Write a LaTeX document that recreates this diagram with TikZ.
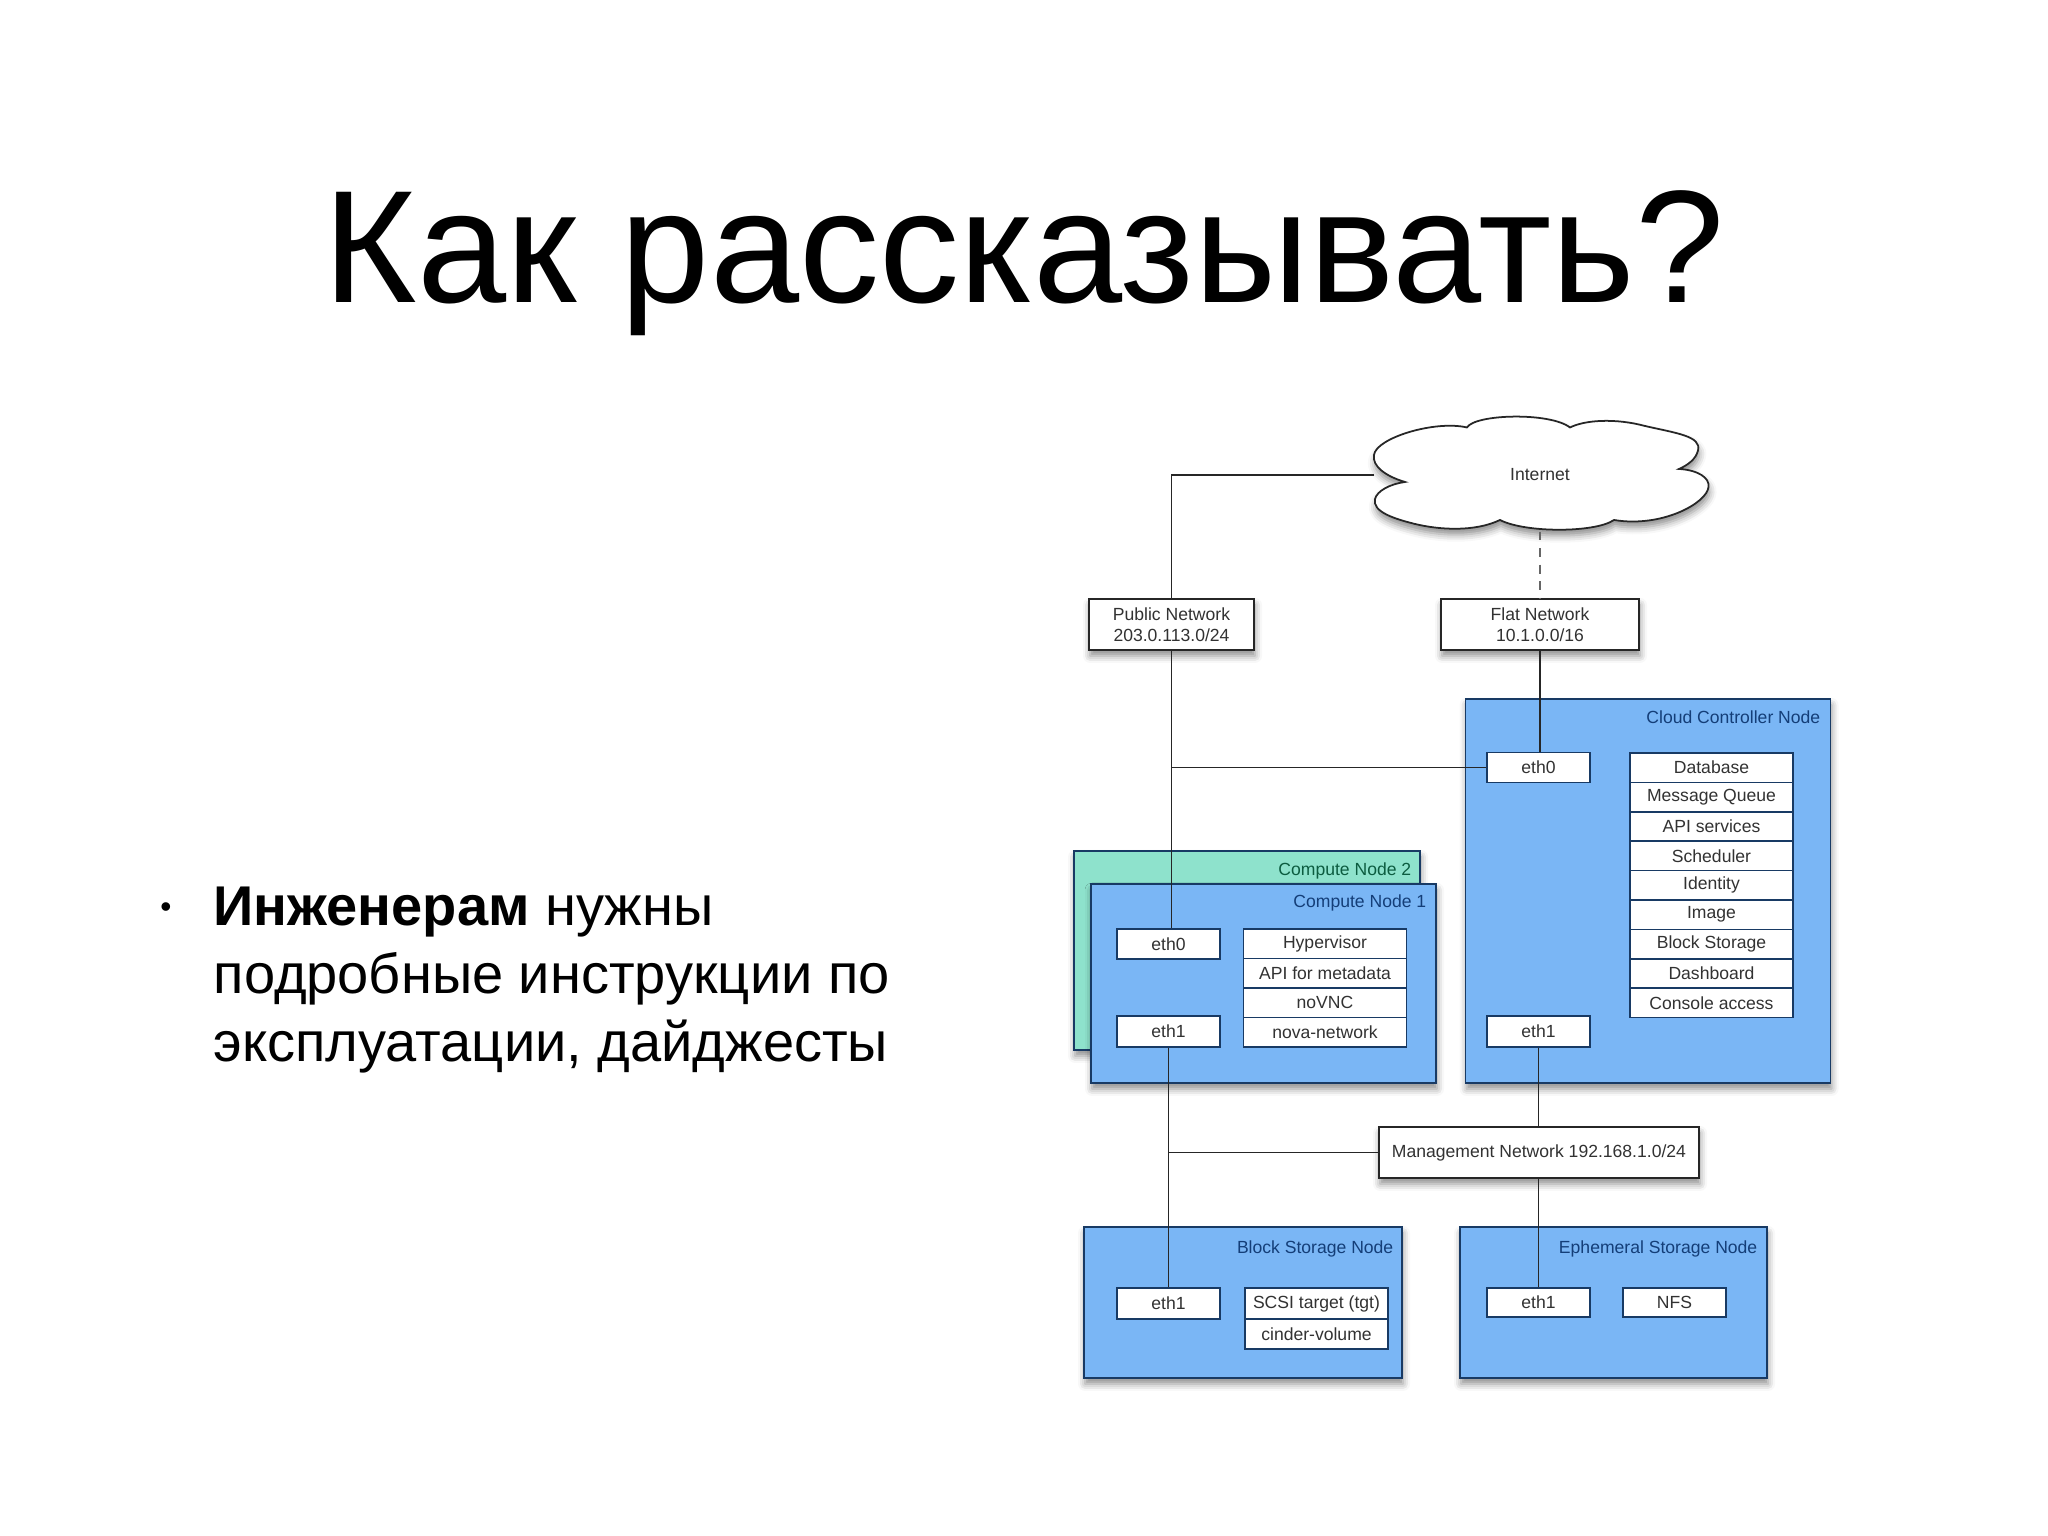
\documentclass[tikz,border=0pt]{standalone}
\usepackage{fontspec}
\setmainfont{Liberation Sans}
\usetikzlibrary{shadows.blur}
\definecolor{nodeblue}{RGB}{122,182,245}
\definecolor{nodeteal}{RGB}{142,226,204}
\definecolor{edgeblue}{RGB}{24,58,100}
\definecolor{titleblue}{RGB}{20,62,120}
\definecolor{titlegreen}{RGB}{12,92,64}
\definecolor{boxtext}{RGB}{50,50,50}
\tikzset{
  softshadow/.style={blur shadow={shadow xshift=0.01cm,shadow yshift=-0.06cm,shadow blur radius=0.07cm,shadow opacity=45}},
  hostbox/.style={rectangle, draw=edgeblue, line width=0.55pt, fill=nodeblue, softshadow},
  netbox/.style={rectangle, draw=black!85, line width=0.5pt, fill=white, text=boxtext, inner sep=0pt, align=center, font=\fontsize{5}{5.9}\selectfont, softshadow},
  portbox/.style={rectangle, draw=edgeblue, line width=0.45pt, fill=white, text=boxtext, inner sep=0pt, font=\fontsize{5}{5.9}\selectfont, minimum width=1.03cm},
  svcbox/.style={portbox, minimum width=1.63cm, minimum height=0.294cm},
  hostname/.style={anchor=east, inner sep=0pt, text=titleblue, font=\fontsize{5}{5.9}\selectfont},
  wire/.style={draw=black!85, line width=0.55pt}
}
\begin{document}
\begin{tikzpicture}
\useasboundingbox (0,0) rectangle (20.48,15.36);

\node[anchor=base, inner sep=0pt, font=\fontsize{45.6}{50}\selectfont] (title) at (10.24,12.33) {Как рассказывать?};
\node[inner sep=0pt, font=\fontsize{9}{10}\selectfont] (dot) at (1.66,6.26) {•};
\node[anchor=north west, inner sep=0pt, align=left, font=\fontsize{15.94}{19.35}\selectfont] (text) at (2.13,6.50) {\textbf{Инженерам} нужны\\подробные инструкции по\\эксплуатации, дайджесты};

% hosts
\node[hostbox, fill=nodeteal, minimum width=3.46cm, minimum height=1.99cm] (cntwo) at (12.47,5.855) {};
\node[hostbox, minimum width=3.45cm, minimum height=1.99cm] (cn) at (12.635,5.525) {};
\node[hostbox, minimum width=3.65cm, minimum height=3.84cm] (ctl) at (16.48,6.45) {};
\node[hostbox, minimum width=3.18cm, minimum height=1.51cm] (block) at (12.43,2.335) {};
\node[hostbox, minimum width=3.07cm, minimum height=1.51cm] (eph) at (16.135,2.335) {};

\node[hostname, text=titlegreen] (cntwoname) at (14.12,6.655) {Compute Node 2};
\node[hostname] (cnname) at (14.27,6.33) {Compute Node 1};
\node[hostname] (ctlname) at (18.21,8.19) {Cloud Controller Node};
\node[hostname] (blockname) at (13.94,2.875) {Block Storage Node};
\node[hostname] (ephname) at (17.58,2.875) {Ephemeral Storage Node};

% networks
\draw[draw=black!85, line width=0.5pt, fill=white, softshadow] (14.05,10.54)
  .. controls (13.85,10.60) and (13.72,10.70) .. (13.74,10.81)
  .. controls (13.76,10.98) and (14.35,11.16) .. (14.67,11.085)
  .. controls (14.75,11.22) and (15.50,11.24) .. (15.70,11.085)
  .. controls (15.85,11.16) and (16.15,11.18) .. (16.45,11.10)
  .. controls (16.75,11.03) and (17.02,11.00) .. (16.98,10.855)
  .. controls (16.96,10.77) and (16.88,10.71) .. (16.79,10.67)
  .. controls (16.98,10.66) and (17.10,10.58) .. (17.085,10.49)
  .. controls (17.07,10.33) and (16.62,10.08) .. (16.14,10.16)
  .. controls (15.95,10.03) and (15.25,10.03) .. (15.00,10.16)
  .. controls (14.75,10.04) and (14.40,10.06) .. (14.15,10.12)
  .. controls (13.95,10.17) and (13.72,10.24) .. (13.75,10.37)
  .. controls (13.77,10.45) and (13.90,10.52) .. (14.05,10.54) -- cycle;
\node[text=boxtext, inner sep=0pt, minimum width=3.30cm, minimum height=1.12cm, font=\fontsize{5}{5.9}\selectfont] (inet) at (15.40,10.61) {Internet};
\node[netbox, minimum width=1.65cm, minimum height=0.51cm] (pub) at (11.715,9.115) {Public Network\\203.0.113.0/24};
\node[netbox, minimum width=1.98cm, minimum height=0.51cm] (flat) at (15.40,9.115) {Flat Network\\10.1.0.0/16};
\node[netbox, minimum width=3.20cm, minimum height=0.51cm] (mgmt) at (15.39,3.835) {Management Network 192.168.1.0/24};

% ports
\node[portbox, minimum height=0.30cm] (cnzero) at (11.685,5.92) {eth0};
\node[portbox, minimum height=0.31cm] (cnone) at (11.685,5.045) {eth1};
\node[portbox, minimum height=0.30cm] (ctlzero) at (15.385,7.685) {eth0};
\node[portbox, minimum height=0.31cm] (ctlone) at (15.385,5.045) {eth1};
\node[portbox, minimum height=0.31cm] (blockone) at (11.685,2.325) {eth1};
\node[portbox, minimum height=0.29cm] (ephone) at (15.385,2.335) {eth1};
\node[portbox, minimum height=0.29cm] (nfs) at (16.745,2.335) {NFS};

% services
\node[svcbox] (db) at (17.115,7.683) {Database};
\node[svcbox] (mq) at (17.115,7.389) {Message Queue};
\node[svcbox] (api) at (17.115,7.095) {API services};
\node[svcbox] (sched) at (17.115,6.801) {Scheduler};
\node[svcbox] (ident) at (17.115,6.507) {Identity};
\node[svcbox] (img) at (17.115,6.213) {Image};
\node[svcbox] (bstore) at (17.115,5.919) {Block Storage};
\node[svcbox] (dash) at (17.115,5.625) {Dashboard};
\node[svcbox] (cons) at (17.115,5.331) {Console access};

\node[svcbox] (hyp) at (13.25,5.923) {Hypervisor};
\node[svcbox] (meta) at (13.25,5.628) {API for metadata};
\node[svcbox] (vnc) at (13.25,5.333) {noVNC};
\node[svcbox] (nova) at (13.25,5.038) {nova-network};

\node[svcbox, minimum width=1.43cm, minimum height=0.305cm] (scsi) at (13.165,2.325) {SCSI target (tgt)};
\node[svcbox, minimum width=1.43cm, minimum height=0.305cm] (cinder) at (13.165,2.02) {cinder-volume};

% links
\draw[wire] (inet.west) -| (pub.north);
\draw[wire] (pub.south) -- (cnzero.north -| pub);
\draw[wire, dash pattern=on 2.5pt off 2.2pt, draw=black!60] (inet.south) -- (flat.north);
\draw[wire] (flat.south) -- (flat.south |- ctlzero.north);
\draw[wire] (ctlzero.west) -- (ctlzero.west -| pub);
\draw[wire] (ctlone.south) -- (ctlone.south |- mgmt.north);
\draw[wire] (cnone.south) -- (blockone.north);
\draw[wire] (mgmt.west) -- (mgmt.west -| cnone);
\draw[wire] (ctlone |- mgmt.south) -- (ephone.north);
\end{tikzpicture}
\end{document}
